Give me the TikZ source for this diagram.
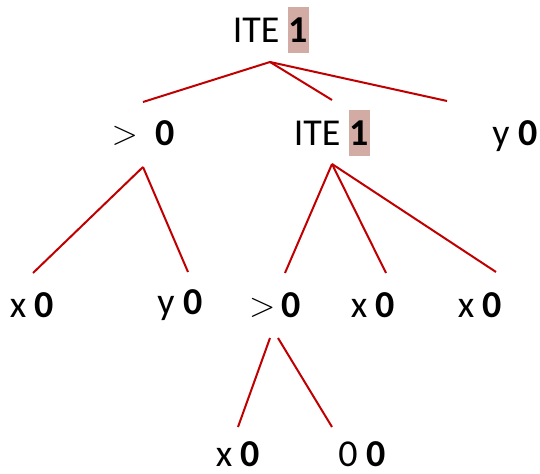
\documentclass[tikz,border=0pt]{standalone}
\usepackage{fontspec}
\setmainfont{Carlito}
\definecolor{branchred}{HTML}{C00000}
\definecolor{markfill}{HTML}{D2ACA4}
\newcommand\val[1]{\textbf{#1}}
\newcommand\hival[1]{{\setlength{\fboxsep}{0.5pt}\colorbox{markfill}{\rule[-4.5pt]{0pt}{22pt}\textbf{#1}}}}
\newcommand\gtsign{\raisebox{0.6pt}{$>$}}
\tikzset{
  lbl/.style={anchor=base, inner sep=0, font=\fontsize{19}{23}\selectfont},
  branch/.style={draw=branchred, line width=1pt},
}

\begin{document}
\begin{tikzpicture}[x=0.5pt, y=-0.5pt]
    \useasboundingbox (0, 0) rectangle (540, 474);
    %% level 0
    \draw (271, 43) node[lbl](ite0){ITE \hival{1}} ;
    %% level 1
    \draw (143, 146) node[lbl](gt1){\gtsign{} \ \val{0}} ;
    \draw (332, 146) node[lbl](ite1){ITE \hival{1}} ;
    \draw (515, 146) node[lbl](y1){y \val{0}} ;
    %% level 2
    \draw (32, 318) node[lbl](x2a){x \val{0}} ;
    \draw (180, 315) node[lbl](y2){y \val{0}} ;
    \draw (275, 318) node[lbl](gt2){\gtsign\,\val{0}} ;
    \draw (373, 318) node[lbl](x2b){x \val{0}} ;
    \draw (480, 318) node[lbl](x2c){x \val{0}} ;
    %% level 3
    \draw (238, 467) node[lbl](x3){x \val{0}} ;
    \draw (362, 467) node[lbl](c3){0 \val{0}} ;
    %% branch ends
    \coordinate (ite0foot) at (270, 62) ;
    \coordinate (gt1top) at (143, 102) ;
    \coordinate (ite1top) at (332, 100) ;
    \coordinate (y1top) at (447, 101) ;
    \coordinate (gt1foot) at (143, 167) ;
    \coordinate (ite1foot) at (332, 164) ;
    \coordinate (x2atop) at (33, 273) ;
    \coordinate (y2top) at (188, 272) ;
    \coordinate (gt2top) at (285, 273) ;
    \coordinate (x2btop) at (386, 273) ;
    \coordinate (x2ctop) at (496, 272) ;
    \coordinate (gt2footl) at (270, 338) ;
    \coordinate (gt2footr) at (278, 338) ;
    \coordinate (x3top) at (238, 427) ;
    \coordinate (c3top) at (332, 427) ;
    %% branches
    \draw[branch] (ite0foot) -- (gt1top) ;
    \draw[branch] (ite0foot) -- (ite1top) ;
    \draw[branch] (ite0foot) -- (y1top) ;
    \draw[branch] (gt1foot) -- (x2atop) ;
    \draw[branch] (gt1foot) -- (y2top) ;
    \draw[branch] (ite1foot) -- (gt2top) ;
    \draw[branch] (ite1foot) -- (x2btop) ;
    \draw[branch] (ite1foot) -- (x2ctop) ;
    \draw[branch] (gt2footl) -- (x3top) ;
    \draw[branch] (gt2footr) -- (c3top) ;
\end{tikzpicture}
\end{document}
